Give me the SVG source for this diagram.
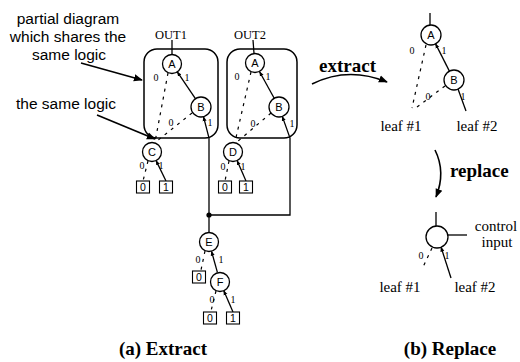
<svg xmlns="http://www.w3.org/2000/svg" width="520" height="362" viewBox="0 0 520 362">
  <defs>
    <marker id="tip" viewBox="0 0 10 10" refX="9" refY="5" markerWidth="9" markerHeight="9" markerUnits="userSpaceOnUse" orient="auto-start-reverse">
      <path d="M0,1 L10,5 L0,9 Z" fill="#000"/>
    </marker>
    <marker id="nib" viewBox="0 0 10 10" refX="9" refY="5" markerWidth="5" markerHeight="5" markerUnits="userSpaceOnUse" orient="auto-start-reverse">
      <path d="M0,1 L10,5 L0,9 Z" fill="#000"/>
    </marker>
  </defs>
  <style>
    .bg { fill: #fff; }
    .n circle { fill: #fff; stroke: #000; stroke-width: 1.3; }
    .n text { font-family: "Liberation Sans", Arial, sans-serif; font-size: 11px; text-anchor: middle; fill: #000; }
    .leaf rect { fill: #fff; stroke: #000; stroke-width: 1.1; }
    .leaf text { font-family: "Liberation Sans", Arial, sans-serif; font-size: 10.5px; text-anchor: middle; fill: #000; }
    .frame { fill: none; stroke: #000; stroke-width: 1.5; }
    .solid { fill: none; stroke: #000; stroke-width: 1.3; }
    .dash { fill: none; stroke: #000; stroke-width: 1.2; stroke-dasharray: 3 5; }
    .pointer { fill: none; stroke: #000; stroke-width: 1.6; }
    .bit { font-family: "Liberation Serif", "Times New Roman", serif; font-size: 10px; text-anchor: middle; fill: #000; }
    .note { font-family: "Liberation Sans", Arial, sans-serif; font-size: 15.5px; text-anchor: middle; fill: #000; }
    .out { font-family: "Liberation Serif", "Times New Roman", serif; font-size: 12.5px; text-anchor: middle; fill: #000; }
    .leafname { font-family: "Liberation Serif", "Times New Roman", serif; font-size: 15px; text-anchor: middle; fill: #000; }
    .step { font-family: "Liberation Serif", "Times New Roman", serif; font-size: 19px; font-weight: bold; fill: #000; }
    .caption { font-family: "Liberation Serif", "Times New Roman", serif; font-size: 19px; font-weight: bold; text-anchor: middle; fill: #000; }
  </style>

  <rect class="bg" x="0" y="0" width="520" height="362"/>

  <!-- annotations on the left -->
  <g id="note-partial">
    <text class="note" x="68" y="24">partial diagram</text>
    <text class="note" x="68" y="42">which shares the</text>
    <text class="note" x="69" y="60">same logic</text>
  </g>
  <g id="note-same">
    <text class="note" x="66" y="109">the same logic</text>
  </g>

  <!-- shared sub-diagram frames -->
  <g id="frame-1"><rect class="frame" x="144" y="49" width="74" height="89" rx="13"/></g>
  <g id="frame-2"><rect class="frame" x="227" y="49" width="70" height="89" rx="13"/></g>

  <!-- connectors -->
  <g id="connectors">
    <!-- pointers from the notes -->
    <path class="pointer" d="M81,63 L142,80" marker-end="url(#tip)"/>
    <path class="pointer" d="M97,115 L155,139" marker-end="url(#tip)"/>

    <!-- OUT1 tree -->
    <path class="solid" d="M172,40 L172,54.5"/>
    <path class="solid" d="M177.3,71.9 L195.4,98.7" marker-start="url(#nib)"/>
    <path class="solid" d="M203.5,116.7 L209,138 L209,215" marker-start="url(#nib)"/>
    <path class="dash" d="M168,73 L155,142"/>
    <path class="dash" d="M192,113 L157,141"/>
    <path class="solid" d="M156.1,160.6 L166,181" marker-start="url(#nib)"/>
    <path class="dash" d="M148,161 L143,181"/>

    <!-- OUT2 tree -->
    <path class="solid" d="M253,40 L254,53.5"/>
    <path class="solid" d="M259.6,71.8 L274.2,98.2" marker-start="url(#nib)"/>
    <path class="solid" d="M282.3,116.4 L290,138 L290,215 L209,215" marker-start="url(#nib)"/>
    <path class="dash" d="M251,72 L235,142"/>
    <path class="dash" d="M271,113 L237,142"/>
    <path class="solid" d="M237.1,160.6 L246,181" marker-start="url(#nib)"/>
    <path class="dash" d="M229,161 L225,181"/>

    <!-- merged branch -->
    <circle cx="209" cy="215" r="2.6" fill="#000"/>
    <path class="solid" d="M209,215 L209,232.5"/>
    <path class="solid" d="M211.5,251.2 L217.4,272.4" marker-start="url(#nib)"/>
    <path class="dash" d="M205,251 L201,270"/>
    <path class="solid" d="M223.8,290.7 L233,312" marker-start="url(#nib)"/>
    <path class="dash" d="M216,291 L211,311"/>

    <!-- extracted sub-diagram -->
    <path class="solid" d="M430,13 L430,25"/>
    <path class="solid" d="M435.6,43.9 L449.4,71.1" marker-start="url(#nib)"/>
    <path class="dash" d="M426,45 L412,108"/>
    <path class="dash" d="M445,86 L413,110"/>
    <path class="solid" d="M458,89 L466,111"/>

    <!-- replacement node -->
    <path class="solid" d="M436,212 L436,226"/>
    <path class="solid" d="M448,235 L467,235"/>
    <path class="solid" d="M441,247 L451,278" marker-start="url(#nib)"/>
    <path class="dash" d="M432,248 L423,267"/>

    <!-- step arrows -->
    <path class="pointer" d="M312,84 Q348,66 387,82" marker-end="url(#tip)"/>
    <path class="pointer" d="M435,150 Q446,172 436,197" marker-end="url(#tip)"/>
  </g>

  <!-- output names -->
  <g id="out1"><text class="out" x="171" y="39">OUT1</text></g>
  <g id="out2"><text class="out" x="250" y="39">OUT2</text></g>

  <!-- decision nodes -->
  <g id="node-a1" class="n"><circle cx="172" cy="64" r="9.5"/><text x="172" y="68">A</text></g>
  <g id="node-b1" class="n"><circle cx="201" cy="107" r="10"/><text x="201" y="111">B</text></g>
  <g id="node-c" class="n"><circle cx="152" cy="152" r="9.5"/><text x="152" y="156">C</text></g>
  <g id="node-a2" class="n"><circle cx="255" cy="63" r="9.5"/><text x="255" y="67">A</text></g>
  <g id="node-b2" class="n"><circle cx="279" cy="107" r="10"/><text x="279" y="111">B</text></g>
  <g id="node-d" class="n"><circle cx="233" cy="152" r="9.5"/><text x="233" y="156">D</text></g>
  <g id="node-e" class="n"><circle cx="209" cy="242" r="9.5"/><text x="209" y="246">E</text></g>
  <g id="node-f" class="n"><circle cx="220" cy="282" r="9.5"/><text x="220" y="286">F</text></g>
  <g id="node-a3" class="n"><circle cx="431" cy="35" r="10"/><text x="431" y="39">A</text></g>
  <g id="node-b3" class="n"><circle cx="454" cy="80" r="10"/><text x="454" y="84">B</text></g>
  <g id="node-mux" class="n"><circle cx="437" cy="237" r="11"/></g>

  <!-- terminal boxes -->
  <g id="leaf-c0" class="leaf"><rect x="136.5" y="181" width="13" height="12"/><text x="143" y="191">0</text></g>
  <g id="leaf-c1" class="leaf"><rect x="159.5" y="181" width="13" height="12"/><text x="166" y="191">1</text></g>
  <g id="leaf-d0" class="leaf"><rect x="218.5" y="181" width="13" height="12"/><text x="225" y="191">0</text></g>
  <g id="leaf-d1" class="leaf"><rect x="239.5" y="181" width="13" height="12"/><text x="246" y="191">1</text></g>
  <g id="leaf-e0" class="leaf"><rect x="192.5" y="271" width="13" height="12"/><text x="199" y="281">0</text></g>
  <g id="leaf-f0" class="leaf"><rect x="203.5" y="312" width="13" height="12"/><text x="210" y="322">0</text></g>
  <g id="leaf-f1" class="leaf"><rect x="226.5" y="312" width="13" height="12"/><text x="233" y="322">1</text></g>

  <!-- branch values -->
  <g id="bits">
    <text class="bit" x="156" y="81">0</text>
    <text class="bit" x="187" y="81">1</text>
    <text class="bit" x="171" y="126">0</text>
    <text class="bit" x="210" y="126">1</text>
    <text class="bit" x="237" y="80">0</text>
    <text class="bit" x="268" y="80">1</text>
    <text class="bit" x="253" y="127">0</text>
    <text class="bit" x="292" y="127">1</text>
    <text class="bit" x="142" y="169">0</text>
    <text class="bit" x="161" y="169">1</text>
    <text class="bit" x="223" y="170">0</text>
    <text class="bit" x="243" y="170">1</text>
    <text class="bit" x="198" y="263">0</text>
    <text class="bit" x="221" y="263">1</text>
    <text class="bit" x="212" y="303">0</text>
    <text class="bit" x="233" y="303">1</text>
    <text class="bit" x="412" y="54">0</text>
    <text class="bit" x="444" y="54">1</text>
    <text class="bit" x="428" y="100">0</text>
    <text class="bit" x="463" y="100">1</text>
    <text class="bit" x="421" y="259">0</text>
    <text class="bit" x="447" y="259">1</text>
  </g>

  <!-- right-hand labels -->
  <g id="leaf-names-top">
    <text class="leafname" x="401" y="131">leaf #1</text>
    <text class="leafname" x="477" y="131">leaf #2</text>
  </g>
  <g id="leaf-names-bottom">
    <text class="leafname" x="400" y="292">leaf #1</text>
    <text class="leafname" x="475" y="292">leaf #2</text>
  </g>
  <g id="control-label">
    <text class="leafname" x="496" y="231">control</text>
    <text class="leafname" x="497" y="247">input</text>
  </g>
  <g id="step-extract"><text class="step" x="319" y="72">extract</text></g>
  <g id="step-replace"><text class="step" x="450" y="177">replace</text></g>

  <!-- captions -->
  <g id="caption-a"><text class="caption" x="163" y="355">(a) Extract</text></g>
  <g id="caption-b"><text class="caption" x="450" y="355">(b) Replace</text></g>
</svg>
